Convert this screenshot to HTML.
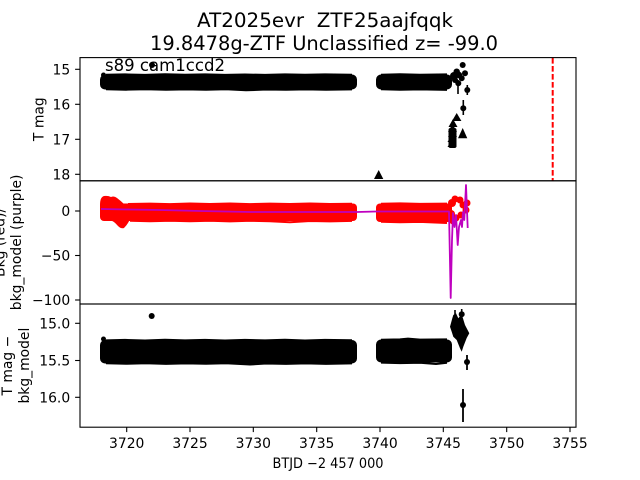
<!DOCTYPE html>
<html>
<head>
<meta charset="utf-8">
<style>
html,body{margin:0;padding:0;background:#fff;}
svg{display:block;}
text{font-family:"DejaVu Sans","Liberation Sans",sans-serif;fill:#000;}
</style>
</head>
<body>
<svg width="640" height="480" viewBox="0 0 640 480" xmlns="http://www.w3.org/2000/svg">
<rect width="640" height="480" fill="#fff"/>

<!-- Titles -->
<text x="325" y="27" font-size="19.4" text-anchor="middle" textLength="256" lengthAdjust="spacingAndGlyphs" style="white-space:pre">AT2025evr  ZTF25aajfqqk</text>
<text x="324" y="50" font-size="19.4" text-anchor="middle" textLength="348" lengthAdjust="spacingAndGlyphs">19.8478g-ZTF Unclassified z= -99.0</text>

<!-- ================= TOP PANEL ================= -->
<g fill="#000">
  <rect x="100" y="74.5" width="257" height="15" rx="5"/>
  <rect x="376" y="74.5" width="76" height="15" rx="5"/>
  <circle cx="103.5" cy="75" r="2.5"/>
</g>
<g stroke="#000" fill="none" stroke-linejoin="round">
  <polyline points="106,74.8 125,74.4 145,74.9 165,74.3 185,74.8 205,74.4 225,74.9 245,74.5 265,74.9 285,74.4 305,74.8 325,74.4 352,74.8" stroke-width="2"/>
  <polyline points="106,89.3 126,89.7 146,89.3 166,89.8 186,89.4 206,89.7 226,89.3 246,90.3 266,89.5 286,89.8 306,89.4 326,89.8 352,89.4" stroke-width="2"/>
  <polyline points="381,74.8 400,74.3 420,74.8 447,74.4" stroke-width="2"/>
  <polyline points="381,89.3 400,89.8 420,89.4 447,89.9" stroke-width="2"/>
  <!-- error bars -->
  <line x1="458" y1="80" x2="458" y2="94" stroke-width="1.6"/>
  <line x1="463.3" y1="100" x2="463.3" y2="115" stroke-width="1.6"/>
  <line x1="467.3" y1="85" x2="467.3" y2="95" stroke-width="1.6"/>
</g>
<g fill="#000">
  <circle cx="152" cy="65" r="3"/>
  <circle cx="462.7" cy="65" r="3"/>
  <circle cx="456.7" cy="71.7" r="3.2"/>
  <circle cx="454" cy="76" r="4"/>
  <circle cx="459" cy="75" r="3.2"/>
  <circle cx="465" cy="73.3" r="3"/>
  <circle cx="461.7" cy="78.3" r="3"/>
  <circle cx="458.3" cy="83.3" r="3"/>
  <circle cx="455" cy="80" r="3"/>
  <circle cx="467.3" cy="90" r="3"/>
  <circle cx="463.3" cy="108.3" r="3"/>
  <!-- triangles -->
  <polygon points="456.7,113 452,121 461.4,121"/>
  <polygon points="453,119 448.5,127 457.5,127"/>
  <polygon points="452.5,124 448,132 457,132"/>
  <polygon points="452.5,129 448,137 457,137"/>
  <polygon points="452,134 447.5,142 456.5,142"/>
  <polygon points="452,139 447.5,147 456.5,147"/>
  <rect x="448.5" y="128" width="8" height="20" rx="2"/>
  <polygon points="462.7,128 458,138.3 467.3,138.3"/>
  <polygon points="378.7,170 374,179 383.3,179"/>
</g>
<!-- red dashed line -->
<line x1="552.7" y1="58" x2="552.7" y2="180.8" stroke="#ff0000" stroke-width="2" stroke-dasharray="5.6,2.4"/>
<text x="105" y="71" font-size="16.67" textLength="120" lengthAdjust="spacingAndGlyphs">s89 cam1ccd2</text>

<!-- ================= MIDDLE PANEL ================= -->
<g fill="#ff0000">
  <rect x="100" y="203.5" width="257" height="17.5" rx="4"/>
  <rect x="376" y="203.5" width="76" height="18.5" rx="4"/>
  <path d="M100,205 Q100,197 104,196 Q108,195.5 111,197 Q114,195.5 117,198 Q121,201 124,204 L128,210 L130,219 Q128,224 124,228 Q121,229 118,226 Q114,221 108,219 Q102,219 100,215 Z"/>
  <circle cx="452" cy="203" r="4"/>
  <circle cx="455" cy="199" r="3.5"/>
  <circle cx="460" cy="200" r="3.5"/>
  <circle cx="463" cy="205" r="3.5"/>
  <circle cx="466" cy="210" r="3.5"/>
  <circle cx="467" cy="203" r="3.5"/>
  <circle cx="451" cy="214" r="4"/>
  <circle cx="456" cy="218" r="3.5"/>
  <circle cx="461" cy="215" r="3.5"/>
  <circle cx="453" cy="221" r="3.5"/>
</g>
<g stroke="#ff0000" fill="none" stroke-linejoin="round">
  <polyline points="128,204 150,203.6 170,204.1 190,203.5 210,204 230,203.5 250,204.1 270,203.6 290,204 310,203.5 330,204 352,203.7" stroke-width="2"/>
  <polyline points="130,220.8 150,221.2 170,220.7 190,221.3 210,220.8 230,221.4 250,220.8 270,221.2 290,222.3 310,221 330,221.4 352,220.9" stroke-width="2"/>
  <polyline points="381,203.8 400,203.4 420,203.9 447,203.6" stroke-width="2"/>
  <polyline points="381,221.8 400,222.3 420,221.9 447,223" stroke-width="2"/>
</g>
<polyline fill="none" stroke="#bf00bf" stroke-width="1.8" stroke-linejoin="round" points="101,209 130,209.5 160,210 200,211 250,212 300,212 357,212 376,211.5 420,211.5 449,211.5 450.7,298 452,240 453,213 454.5,227 456,215 457.7,245 459,227 461,220 462,227 463,212 464.3,220 466,185 467.7,228"/>

<!-- ================= BOTTOM PANEL ================= -->
<g fill="#000">
  <rect x="100" y="340" width="257" height="23.5" rx="5"/>
  <rect x="376" y="339.5" width="76" height="23" rx="5"/>
  <circle cx="103.5" cy="339" r="2.5"/>
</g>
<g stroke="#000" fill="none" stroke-linejoin="round">
  <polyline points="106,340.4 125,339.9 145,340.5 165,339.8 185,340.4 205,339.9 225,340.5 245,339.9 265,340.4 285,339.8 305,340.5 325,339.9 352,340.3" stroke-width="2"/>
  <polyline points="106,363.3 126,363.8 146,363.3 166,363.9 186,363.4 206,363.8 226,363.3 250,364.5 266,363.5 286,363.9 306,363.4 326,363.9 352,363.4" stroke-width="2"/>
  <polyline points="381,339.8 400,339.4 408,338.6 420,339.6 447,339.4" stroke-width="2"/>
  <polyline points="381,362.6 400,363.1 420,362.7 436,364 447,362.8" stroke-width="2"/>
  <line x1="467" y1="355" x2="467" y2="370" stroke-width="1.8"/>
  <line x1="463" y1="389" x2="463" y2="422" stroke-width="1.8"/>
  <line x1="461.7" y1="309" x2="461.7" y2="322" stroke-width="1.6"/>
  <line x1="455" y1="310" x2="455" y2="336" stroke-width="1.6"/>
</g>
<g fill="#000">
  <circle cx="151.7" cy="316" r="3"/>
  <polygon points="450,326.7 452.3,318.3 453.3,315 456,313.3 458.3,318.3 461.7,314.3 465,325 469.3,333.3 466.7,338 463.3,346.7 461.7,351.7 460,348.3 456.7,340 453.3,336.7 451.7,331.7"/>
  <circle cx="461.7" cy="314.3" r="3"/>
  <circle cx="467" cy="362" r="3"/>
  <circle cx="463" cy="405" r="3"/>
</g>

<!-- ================= AXES FRAMES ================= -->
<g fill="none" stroke="#000" stroke-width="1.1">
  <rect x="80" y="57.6" width="496" height="123.2"/>
  <rect x="80" y="180.8" width="496" height="123.2"/>
  <rect x="80" y="304" width="496" height="123.2"/>
  <line x1="75.1" y1="69.3" x2="80" y2="69.3"/>
  <line x1="75.1" y1="104.3" x2="80" y2="104.3"/>
  <line x1="75.1" y1="139.3" x2="80" y2="139.3"/>
  <line x1="75.1" y1="174.3" x2="80" y2="174.3"/>
  <line x1="75.1" y1="211" x2="80" y2="211"/>
  <line x1="75.1" y1="255.5" x2="80" y2="255.5"/>
  <line x1="75.1" y1="300" x2="80" y2="300"/>
  <line x1="75.1" y1="323.3" x2="80" y2="323.3"/>
  <line x1="75.1" y1="360.5" x2="80" y2="360.5"/>
  <line x1="75.1" y1="397.3" x2="80" y2="397.3"/>
  <line x1="126.7" y1="427.2" x2="126.7" y2="432.1"/>
  <line x1="190" y1="427.2" x2="190" y2="432.1"/>
  <line x1="253.3" y1="427.2" x2="253.3" y2="432.1"/>
  <line x1="316.7" y1="427.2" x2="316.7" y2="432.1"/>
  <line x1="380" y1="427.2" x2="380" y2="432.1"/>
  <line x1="443.3" y1="427.2" x2="443.3" y2="432.1"/>
  <line x1="506.7" y1="427.2" x2="506.7" y2="432.1"/>
  <line x1="570" y1="427.2" x2="570" y2="432.1"/>
</g>

<!-- tick labels -->
<g font-size="13.9" text-anchor="end">
  <text x="70.2" y="74.3">15</text>
  <text x="70.2" y="109.3">16</text>
  <text x="70.2" y="144.3">17</text>
  <text x="70.2" y="179.3">18</text>
  <text x="70.2" y="216">0</text>
  <text x="70.2" y="260.5">−50</text>
  <text x="70.2" y="305">−100</text>
  <text x="70.2" y="328.3">15.0</text>
  <text x="70.2" y="365.5">15.5</text>
  <text x="70.2" y="402.3">16.0</text>
</g>
<g font-size="13.9" text-anchor="middle">
  <text x="126.7" y="448">3720</text>
  <text x="190" y="448">3725</text>
  <text x="253.3" y="448">3730</text>
  <text x="316.7" y="448">3735</text>
  <text x="380" y="448">3740</text>
  <text x="443.3" y="448">3745</text>
  <text x="506.7" y="448">3750</text>
  <text x="570" y="448">3755</text>
</g>

<!-- axis labels -->
<text x="328" y="468" font-size="13.9" text-anchor="middle" textLength="111" lengthAdjust="spacingAndGlyphs">BTJD −2 457 000</text>
<text transform="translate(43.5,119.2) rotate(-90)" font-size="13.9" text-anchor="middle">T mag</text>
<text transform="translate(4.5,242.4) rotate(-90)" font-size="13.9" text-anchor="middle">Bkg (red)/</text>
<text transform="translate(21,242.4) rotate(-90)" font-size="13.9" text-anchor="middle">bkg_model (purple)</text>
<text transform="translate(12,365.6) rotate(-90)" font-size="13.9" text-anchor="middle">T mag −</text>
<text transform="translate(29,365.6) rotate(-90)" font-size="13.9" text-anchor="middle">bkg_model</text>
</svg>
</body>
</html>
